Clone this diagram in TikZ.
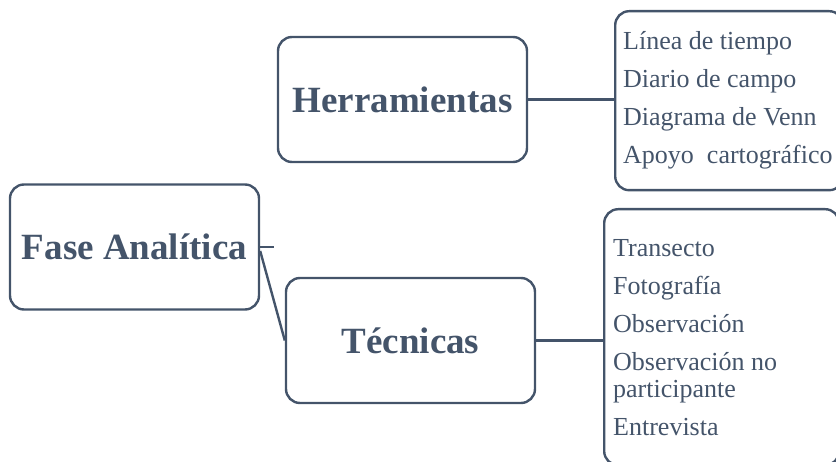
\documentclass[tikz,border=0pt]{standalone}
\usepackage{fontspec}
\setmainfont{Liberation Serif}
\usetikzlibrary{positioning}
\definecolor{slate}{HTML}{44546A}

\begin{document}
\begin{tikzpicture}[x=1pt, y=-1pt,
    conn/.style={line width=2.4pt, draw=slate},
    mainbox/.style={draw=slate, line width=2.4pt, rounded corners=14pt, minimum width=249pt, minimum height=125pt,
        text=slate, font=\bfseries\fontsize{37}{44}\selectfont},
    listbox/.style={draw=slate, line width=2.4pt, rounded corners=14pt, text=slate, align=flush left, anchor=north west,
        inner xsep=8pt, font=\fontsize{26}{27}\selectfont}]
		%%%%% START %%%%%
		\useasboundingbox (0, 0) rectangle (836, 462);
		\clip (0, 0) rectangle (836, 462);
		
		\node[mainbox] (fase) at (134.5, 247) {Fase Analítica};
		\node[mainbox] (herr) at (402.5, 99.5) {Herramientas};
		\node[mainbox] (tec) at (410.5, 340.5) {Técnicas};
		
		\node[listbox, text width=212pt, minimum height=179pt] (herrlist) at (614, 10)
			{Línea de tiempo\\[11pt] Diario de campo\\[11pt] Diagrama de Venn\\[11pt] Apoyo~~cartográfico};
		\node[listbox, inner xsep=9pt, text width=217pt, minimum height=256pt] (teclist) at (603, 208)
			{Transecto\\[11pt] Fotografía\\[11pt] Observación\\[11pt] Observación no\\ participante\\[11pt] Entrevista};
		
		\coordinate (stub) at (274, 247);
		\draw[conn] (fase.east) -- (stub);
		\draw[conn] ([yshift=-4pt]fase.east) -- (tec.west);
		
		\draw[conn] (herr.east) -- (herr.east -| herrlist.west);
		\draw[conn] (tec.east) -- (tec.east -| teclist.west);
		
		%%%%% END %%%%%
\end{tikzpicture}
\end{document}
